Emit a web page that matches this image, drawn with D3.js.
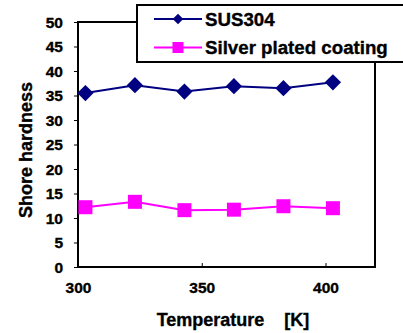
<!DOCTYPE html>
<html><head><meta charset="utf-8">
<script src="https://cdn.jsdelivr.net/npm/d3@7"></script>
<style>
body{margin:0;background:#fff;}
text{font-family:"Liberation Sans",Arial,sans-serif;font-weight:bold;fill:#000;stroke:#000;stroke-width:0.35px;}
</style></head>
<body><svg id="c" width="403" height="333"></svg>
<script>
const temperatures = [303, 323, 343, 363, 383, 403];
const sus304 = [35.5, 37.1, 35.8, 36.9, 36.5, 37.7];
const silver = [12.2, 13.3, 11.6, 11.7, 12.4, 12.0];
const seriesNames = ["SUS304", "Silver plated coating"];
const xTicks = [300, 350, 400];
const yTicks = [0,5,10,15,20,25,30,35,40,45,50];

const svg = d3.select("#c");
const L=78, T=22, R=375, B=267;
const x = d3.scaleLinear().domain([300,420]).range([L,R]);
const y = d3.scaleLinear().domain([0,50]).range([B,T]);

// frame
svg.append("rect").attr("x",L).attr("y",T).attr("width",R-L).attr("height",B-T)
  .attr("fill","#fff").attr("stroke","#000").attr("stroke-width",2);

// y axis
const ya = svg.append("g").attr("transform",`translate(${L},0)`)
  .call(d3.axisLeft(y).tickValues(yTicks).tickSize(4).tickPadding(11));
ya.select(".domain").remove();
ya.selectAll("line").attr("stroke","#000").attr("stroke-width",1);
ya.selectAll("text").attr("font-size",15.5).attr("font-family","Liberation Sans, Arial").attr("font-weight","bold").attr("dy","0.35em");

// x axis (inward ticks)
const xa = svg.append("g").attr("transform",`translate(0,${B})`)
  .call(d3.axisBottom(x).tickValues(xTicks).tickSize(-4).tickPadding(15));
xa.select(".domain").remove();
xa.selectAll("line").attr("stroke","#000").attr("stroke-width",1);
xa.selectAll("text").attr("font-size",15.5).attr("font-family","Liberation Sans, Arial").attr("font-weight","bold");

// axis titles
svg.append("text").attr("x",233).attr("y",326).attr("text-anchor","middle")
  .attr("font-size",18).text("Temperature\u00a0\u00a0\u00a0\u00a0[K]");
svg.append("text").attr("transform","translate(32,150) rotate(-90)").attr("text-anchor","middle")
  .attr("font-size",18).text("Shore hardness");

const line = d3.line().x((d,i)=>x(temperatures[i])).y(d=>y(d));
const navy="#000080", mag="#FF00FF";

svg.append("path").datum(sus304).attr("d",line).attr("fill","none").attr("stroke",navy).attr("stroke-width",2);
svg.append("path").datum(silver).attr("d",line).attr("fill","none").attr("stroke",mag).attr("stroke-width",2);

svg.selectAll(".dia").data(sus304).join("rect")
  .attr("width",11.5).attr("height",11.5).attr("x",-5.75).attr("y",-5.75)
  .attr("transform",(d,i)=>`translate(${x(temperatures[i])},${y(d)}) rotate(45)`)
  .attr("fill",navy);
svg.selectAll(".sq").data(silver).join("rect")
  .attr("x",(d,i)=>x(temperatures[i])-7).attr("y",d=>y(d)-7)
  .attr("width",14).attr("height",14).attr("fill",mag);

// legend
const lg = svg.append("g");
lg.append("rect").attr("x",137).attr("y",5).attr("width",290).attr("height",57)
  .attr("fill","#fff").attr("stroke","#000").attr("stroke-width",2);
const rows=[{n:seriesNames[0],c:navy,y:19,t:"d"},{n:seriesNames[1],c:mag,y:47.5,t:"s"}];
rows.forEach(r=>{
  lg.append("line").attr("x1",154).attr("x2",202).attr("y1",r.y).attr("y2",r.y).attr("stroke",r.c).attr("stroke-width",2);
  if(r.t==="d"){
    lg.append("rect").attr("width",7.5).attr("height",7.5).attr("x",-3.75).attr("y",-3.75)
      .attr("transform",`translate(178,${r.y}) rotate(45)`).attr("fill",r.c);
  } else {
    lg.append("rect").attr("x",172.5).attr("y",r.y-5.5).attr("width",11).attr("height",11).attr("fill",r.c);
  }
  lg.append("text").attr("x",205).attr("y",r.y).attr("dy","0.36em").attr("font-size",18.7).text(r.n);
});
</script></body></html>
